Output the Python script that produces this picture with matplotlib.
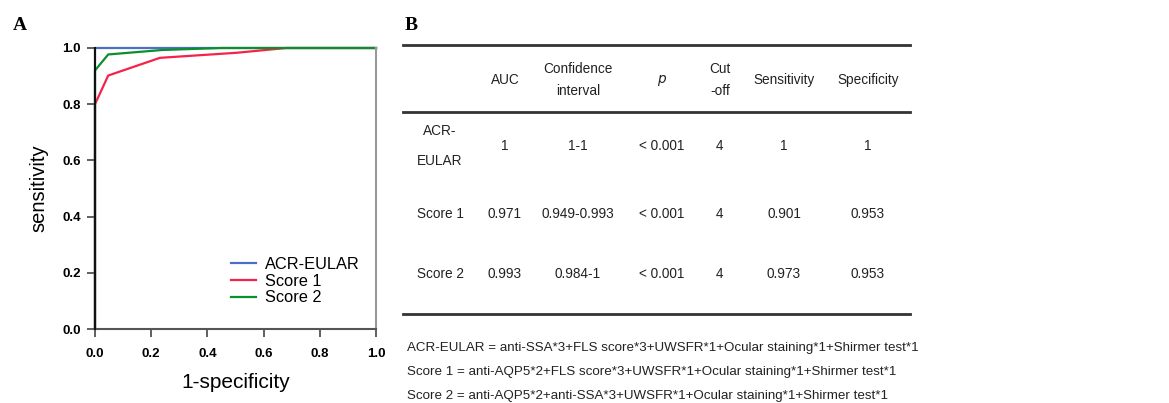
import matplotlib
matplotlib.use('Agg')
import matplotlib.pyplot as plt
from matplotlib.lines import Line2D

plt.rcParams['font.family'] = ['Liberation Sans', 'DejaVu Sans']

# ROC curves
acr_x = [0.0, 0.0, 1.0]
acr_y = [0.0, 1.0, 1.0]
s1_x = [0.0, 0.0, 0.047, 0.231, 0.504, 0.68, 1.0]
s1_y = [0.0, 0.80, 0.902, 0.965, 0.983, 1.0, 1.0]
s2_x = [0.0, 0.0, 0.047, 0.24, 0.45, 1.0]
s2_y = [0.0, 0.92, 0.977, 0.993, 1.0, 1.0]
ticks = [0.0, 0.2, 0.4, 0.6, 0.8, 1.0]

# table B
headers = ['AUC', 'Confidence\ninterval', '$p$', 'Cut\n-off', 'Sensitivity', 'Specificity']
row_names = ['ACR-\nEULAR', 'Score 1', 'Score 2']
auc = ['1', '0.971', '0.993']
ci = ['1-1', '0.949-0.993', '0.984-1']
pval = ['< 0.001', '< 0.001', '< 0.001']
cutoff = ['4', '4', '4']
sens = ['1', '0.901', '0.973']
spec = ['1', '0.953', '0.953']
notes = ['ACR-EULAR = anti-SSA*3+FLS score*3+UWSFR*1+Ocular staining*1+Shirmer test*1',
         'Score 1 = anti-AQP5*2+FLS score*3+UWSFR*1+Ocular staining*1+Shirmer test*1',
         'Score 2 = anti-AQP5*2+anti-SSA*3+UWSFR*1+Ocular staining*1+Shirmer test*1']

W, H = 1169, 403
fig = plt.figure(figsize=(W / 100, H / 100), dpi=100)

def px(x, y):
    return x / W, 1 - y / H

# ---- panel A
ax = fig.add_axes([95 / W, 1 - 329 / H, 281 / W, 281 / H])
ax.plot(acr_x, acr_y, color='#4a6fc4', lw=1.6, clip_on=False, label='ACR-EULAR')
ax.plot(s1_x, s1_y, color='#f5234a', lw=1.6, clip_on=False, label='Score 1')
ax.plot(s2_x, s2_y, color='#0b8f2b', lw=1.6, clip_on=False, label='Score 2')
ax.set_xlim(0, 1)
ax.set_ylim(0, 1)
ax.set_xticks(ticks)
ax.set_yticks(ticks)
ax.set_xticklabels(['%.1f' % t for t in ticks], fontweight='bold', fontsize=9.5)
ax.set_yticklabels(['%.1f' % t for t in ticks], fontweight='bold', fontsize=9.5)
ax.tick_params(direction='out', length=6, width=1.2, color='#444')
ax.tick_params(axis='x', pad=8)
ax.tick_params(axis='y', pad=4)
ax.spines['top'].set_visible(False)
ax.spines['left'].set_color('#111')
ax.spines['left'].set_linewidth(1.5)
ax.spines['left'].set_zorder(5)
ax.spines['bottom'].set_color('#555')
ax.spines['bottom'].set_linewidth(1.5)
ax.spines['right'].set_color('#999')
ax.spines['right'].set_linewidth(1.5)
ax.set_xlabel('1-specificity', fontsize=15, labelpad=9)
ax.set_ylabel('sensitivity', fontsize=14.5, labelpad=10)
ax.legend(loc='lower left', bbox_to_anchor=(0.455, 0.055), frameon=False, fontsize=11.8,
          handlelength=1.55, handletextpad=0.5, labelspacing=0.1, borderpad=0)

fig.text(*px(13, 25), 'A', family='Liberation Serif', fontweight='bold', fontsize=14, va='center')
fig.text(*px(405, 25), 'B', family='Liberation Serif', fontweight='bold', fontsize=14, va='center')

# ---- panel B
x0, x1 = 403, 910
for yl in [45, 112, 314]:
    fig.add_artist(Line2D([x0 / W, x1 / W], [1 - yl / H, 1 - yl / H], color='#333', lw=2))

col_x = [440, 505, 578, 662, 720, 784, 868]
head_y = 80
row_y = [146, 214, 274]
fs = 9.8
for cx, h in zip(col_x[1:], headers):
    fig.text(*px(cx, head_y), h, ha='center', va='center', fontsize=fs, linespacing=1.7,
             color='#222')
for i, name in enumerate(row_names):
    vals = [name, auc[i], ci[i], pval[i], cutoff[i], sens[i], spec[i]]
    for cx, v in zip(col_x, vals):
        fig.text(*px(cx, row_y[i]), v, ha='center', va='center', fontsize=fs,
                 linespacing=2.5, color='#222')

note_y = [348, 372, 396]
for ny, n in zip(note_y, notes):
    fig.text(*px(407, ny), n, ha='left', va='center', fontsize=9.6, color='#222')

fig.savefig('out.png', dpi=100)
